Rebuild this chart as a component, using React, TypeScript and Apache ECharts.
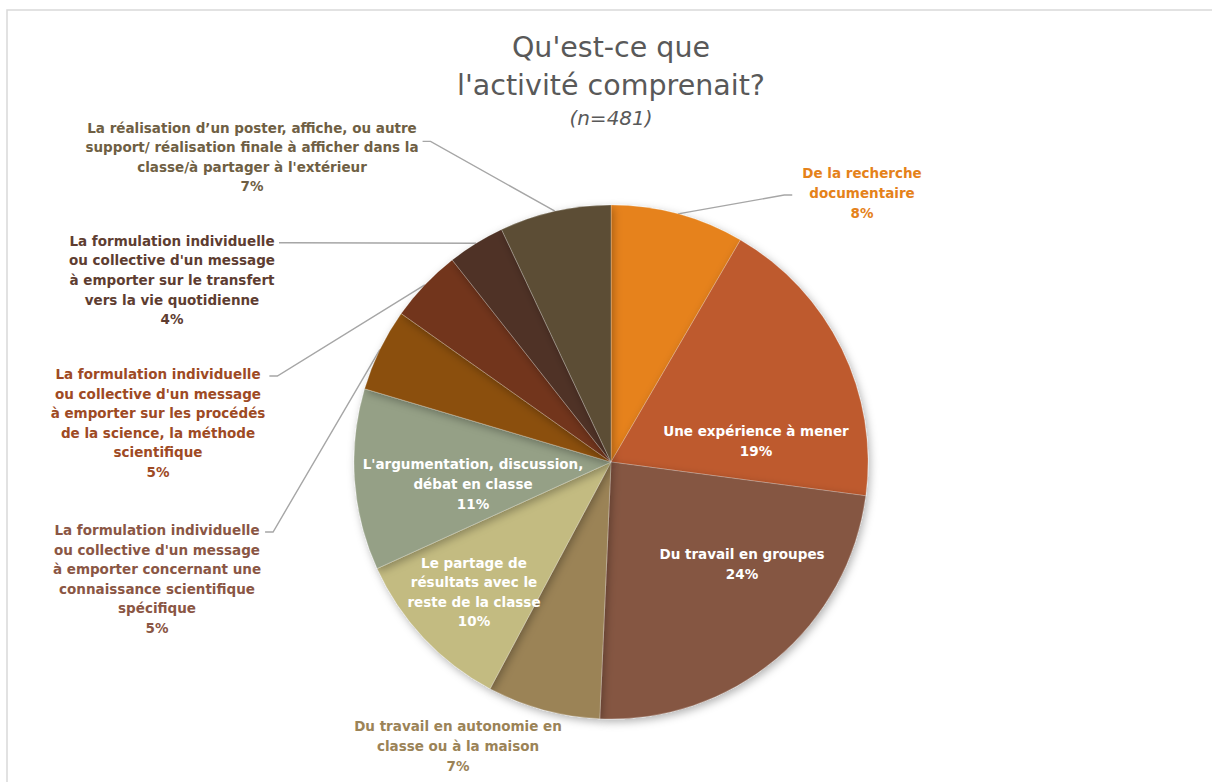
import React, { useEffect, useRef } from 'react';
import * as echarts from 'echarts';

// ---- data ----
const categories: string[] = [
  'De la recherche\ndocumentaire',
  'Une expérience à mener',
  'Du travail en groupes',
  'Du travail en autonomie en\nclasse ou à la maison',
  'Le partage de\nrésultats avec le\nreste de la classe',
  "L'argumentation, discussion,\ndébat en classe",
  "La formulation individuelle\nou collective d'un message\nà emporter concernant une\nconnaissance scientifique\nspécifique",
  "La formulation individuelle\nou collective d'un message\nà emporter sur les procédés\nde la science, la méthode\nscientifique",
  "La formulation individuelle\nou collective d'un message\nà emporter sur le transfert\nvers la vie quotidienne",
  "La réalisation d’un poster, affiche, ou autre\nsupport/ réalisation finale à afficher dans la\nclasse/à partager à l'extérieur",
];
const values: number[] = [8.4, 18.7, 23.6, 7.1, 10.4, 11.4, 5.2, 4.6, 3.6, 7.0];

const titleLines = "Qu'est-ce que\nl'activité comprenait?";
const subtitle = '(n=481)';

// ---- styles / layout ----
const sliceColors = ['#E6821A', '#BE5A2E', '#855642', '#9B8357', '#C3BB81', '#95A086', '#8B500E', '#72351A', '#4F3326', '#5C4E36'];
const labelColors = ['#E5821A', '#FFFFFF', '#FFFFFF', '#9B8357', '#FFFFFF', '#FFFFFF', '#8A5644', '#9E4A24', '#5E3D31', '#6F5F44'];
const insideLabel = [false, true, true, false, true, true, false, false, false, false];
const showLine = [true, false, false, false, false, false, true, true, true, true];
const labelPos: [number, number][] = [
  [862, 193], [756, 441], [742, 564], [458, 746], [474, 592],
  [473, 484], [157, 579], [158, 423], [172, 280], [252, 157],
];
const anchorLine = [1, 0, 0, 0, 0, 0, 0, 0, 0, 0.6];
const CX = 611;
const CY = 462;
const R = 257;
const LINE_H = 19.6;
const FONT = "'DejaVu Sans', 'Open Sans', sans-serif";

export default function App() {
  const ref = useRef<HTMLDivElement>(null);

  useEffect(() => {
    if (!ref.current) return;
    const chart = echarts.init(ref.current, undefined, { renderer: 'svg' });

    const data = values.map((v, i) => ({
      value: v,
      name: categories[i],
      itemStyle: { color: sliceColors[i] },
      label: {
        position: insideLabel[i] ? 'inside' : 'outside',
        color: labelColors[i],
      },
      labelLine: { show: showLine[i] },
    }));

    chart.setOption({
      animation: false,
      backgroundColor: '#ffffff',
      title: [
        {
          text: titleLines,
          left: CX,
          top: 28,
          textAlign: 'center',
          padding: 0,
          textStyle: { fontFamily: FONT, fontSize: 28.5, lineHeight: 38, fontWeight: 'normal', color: '#595959' },
        },
        {
          text: subtitle,
          left: CX,
          top: 108,
          textAlign: 'center',
          padding: 0,
          textStyle: { fontFamily: FONT, fontSize: 20, lineHeight: 20, fontStyle: 'italic', fontWeight: 'normal', color: '#595959' },
        },
      ],
      graphic: [
        {
          type: 'rect',
          z: -10,
          silent: true,
          shape: { x: 7, y: 10, width: 1400, height: 1000 },
          style: { fill: 'none', stroke: '#D9D9D9', lineWidth: 1.5 },
        },
      ],
      series: [
        {
          type: 'pie',
          center: [CX, CY],
          radius: [0, R],
          startAngle: 90,
          clockwise: true,
          avoidLabelOverlap: false,
          percentPrecision: 0,
          itemStyle: {
            borderColor: 'rgba(255,255,255,0.35)',
            borderWidth: 0.6,
            shadowBlur: 8,
            shadowOffsetX: 2,
            shadowOffsetY: 3,
            shadowColor: 'rgba(0,0,0,0.3)',
          },
          label: {
            show: true,
            formatter: '{b}\n{d}%',
            fontFamily: FONT,
            fontSize: 13.5,
            fontWeight: 'bold',
            lineHeight: LINE_H,
            align: 'center',
          },
          labelLine: {
            length: 10,
            length2: 10,
            lineStyle: { color: '#A6A6A6', width: 1.4 },
          },
          emphasis: { disabled: true },
          labelLayout: (params: any) => {
            const i = params.dataIndex;
            const [x, y] = labelPos[i];
            const res: any = { x, y, align: 'center', verticalAlign: 'middle' };
            if (showLine[i] && params.labelLinePoints && params.labelLinePoints.length) {
              const arc = params.labelLinePoints[0];
              const w = params.labelRect.width;
              const h = params.labelRect.height;
              const onLeft = x < CX;
              const ax = onLeft ? x + w / 2 + 4 : x - w / 2 - 10;
              const ay = y - h / 2 + LINE_H * (anchorLine[i] + 0.5) + 2;
              const ex = onLeft ? ax + 8 : ax - 8;
              res.labelLinePoints = [arc, [ex, ay], [ax, ay]];
            }
            return res;
          },
          data,
        },
      ],
    });

    return () => chart.dispose();
  }, []);

  return (
    <div
      ref={ref}
      style={{ position: 'fixed', left: 0, top: 0, width: 1212, height: 782, background: '#fff' }}
    />
  );
}
